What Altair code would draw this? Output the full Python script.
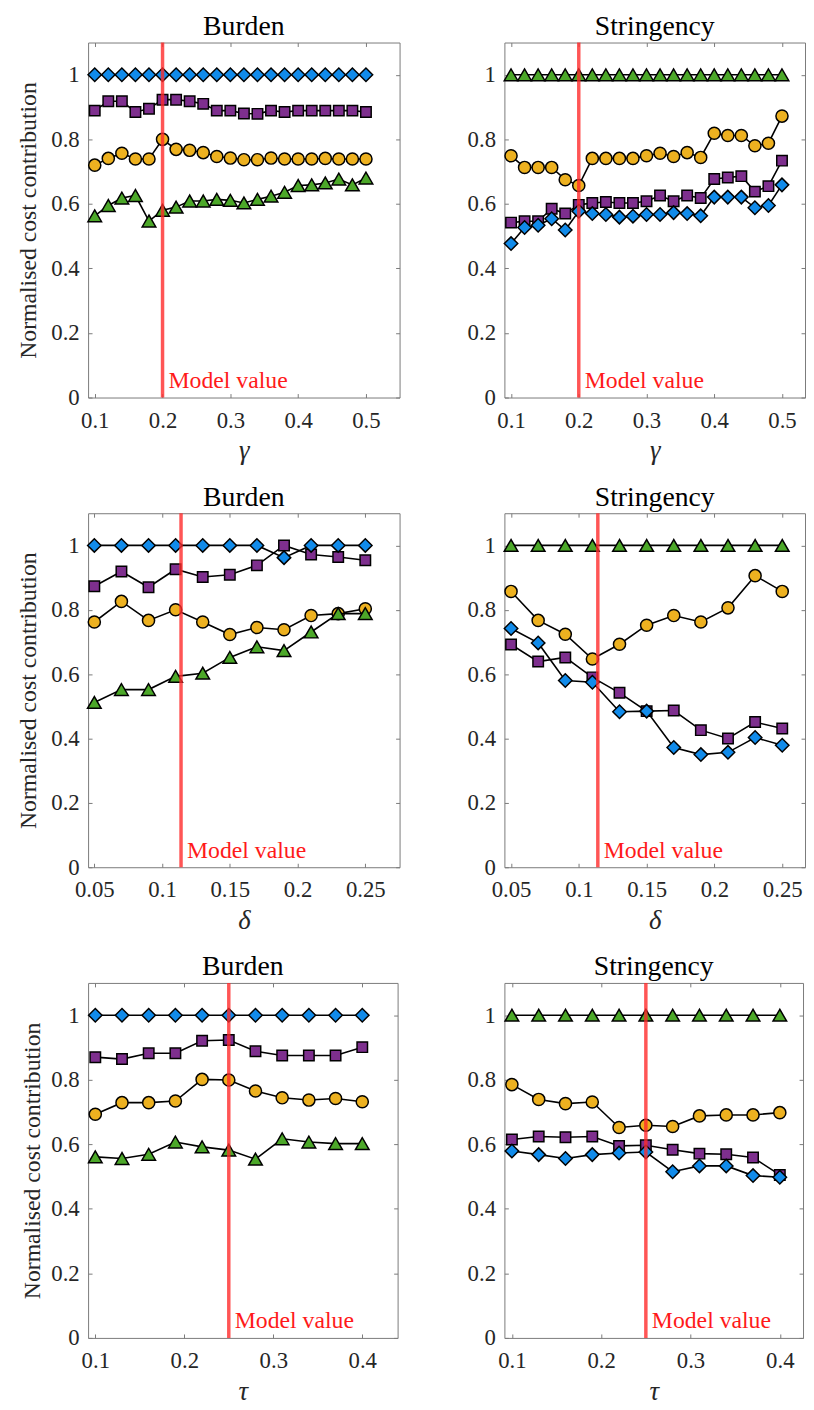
import altair as alt
import pandas as pd

# ---------------- data ----------------
gamma_x = [0.10, 0.12, 0.14, 0.16, 0.18, 0.20, 0.22, 0.24, 0.26, 0.28, 0.30,
           0.32, 0.34, 0.36, 0.38, 0.40, 0.42, 0.44, 0.46, 0.48, 0.50]
delta_x = [0.05, 0.07, 0.09, 0.11, 0.13, 0.15, 0.17, 0.19, 0.21, 0.23, 0.25]
tau_x = [0.10, 0.13, 0.16, 0.19, 0.22, 0.25, 0.28, 0.31, 0.34, 0.37, 0.40]

# Burden vs gamma
bg_blue = [1, 1, 1, 1, 1, 1, 1, 1, 1, 1, 1, 1, 1, 1, 1, 1, 1, 1, 1, 1, 1]
bg_purple = [0.889, 0.918, 0.918, 0.885, 0.895, 0.923, 0.923, 0.918, 0.910, 0.889, 0.889,
             0.880, 0.879, 0.889, 0.885, 0.889, 0.889, 0.889, 0.889, 0.889, 0.885]
bg_orange = [0.720, 0.741, 0.757, 0.739, 0.739, 0.800, 0.769, 0.766, 0.759, 0.747, 0.742,
             0.737, 0.737, 0.742, 0.739, 0.739, 0.739, 0.741, 0.739, 0.739, 0.739]
bg_green = [0.563, 0.595, 0.618, 0.626, 0.547, 0.580, 0.590, 0.609, 0.609, 0.614, 0.611,
            0.603, 0.614, 0.624, 0.636, 0.657, 0.659, 0.665, 0.677, 0.659, 0.680]

# Stringency vs gamma
sg_green = [1, 1, 1, 1, 1, 1, 1, 1, 1, 1, 1, 1, 1, 1, 1, 1, 1, 1, 1, 1, 1]
sg_orange = [0.749, 0.713, 0.713, 0.713, 0.675, 0.657, 0.741, 0.741, 0.741, 0.741, 0.749,
             0.757, 0.747, 0.759, 0.744, 0.819, 0.812, 0.812, 0.780, 0.788, 0.872]
sg_purple = [0.542, 0.546, 0.546, 0.585, 0.570, 0.597, 0.603, 0.606, 0.603, 0.603, 0.608,
             0.626, 0.608, 0.626, 0.618, 0.677, 0.682, 0.686, 0.638, 0.655, 0.734]
sg_blue = [0.477, 0.527, 0.534, 0.554, 0.519, 0.577, 0.570, 0.567, 0.559, 0.562, 0.567,
           0.567, 0.573, 0.570, 0.563, 0.621, 0.621, 0.621, 0.588, 0.595, 0.659]

# Burden vs delta
bd_blue = [1, 1, 1, 1, 1, 1, 1, 0.962, 1, 1, 1]
bd_purple = [0.873, 0.919, 0.870, 0.926, 0.902, 0.909, 0.938, 1.0, 0.972, 0.964, 0.954]
bd_orange = [0.762, 0.826, 0.767, 0.800, 0.762, 0.723, 0.745, 0.738, 0.782, 0.788, 0.803]
bd_green = [0.512, 0.552, 0.552, 0.593, 0.603, 0.652, 0.685, 0.673, 0.731, 0.788, 0.788]

# Stringency vs delta
sd_green = [1, 1, 1, 1, 1, 1, 1, 1, 1, 1, 1]
sd_orange = [0.857, 0.767, 0.724, 0.647, 0.693, 0.752, 0.782, 0.762, 0.806, 0.906, 0.857]
sd_blue = [0.742, 0.697, 0.580, 0.575, 0.483, 0.485, 0.372, 0.350, 0.357, 0.403, 0.379]
sd_purple = [0.692, 0.639, 0.652, 0.590, 0.542, 0.485, 0.487, 0.426, 0.400, 0.451, 0.431]

# Burden vs tau
bt_blue = [1, 1, 1, 1, 1, 1, 1, 1, 1, 1, 1]
bt_purple = [0.870, 0.864, 0.882, 0.882, 0.921, 0.923, 0.888, 0.875, 0.875, 0.875, 0.901]
bt_orange = [0.693, 0.729, 0.729, 0.734, 0.801, 0.799, 0.765, 0.744, 0.737, 0.742, 0.732]
bt_green = [0.561, 0.556, 0.569, 0.607, 0.592, 0.582, 0.554, 0.617, 0.607, 0.602, 0.602]

# Stringency vs tau
st_green = [1, 1, 1, 1, 1, 1, 1, 1, 1, 1, 1]
st_orange = [0.785, 0.739, 0.726, 0.731, 0.652, 0.659, 0.655, 0.688, 0.691, 0.691, 0.698]
st_purple = [0.615, 0.624, 0.622, 0.624, 0.595, 0.597, 0.583, 0.571, 0.569, 0.559, 0.505]
st_blue = [0.579, 0.568, 0.556, 0.568, 0.573, 0.576, 0.515, 0.533, 0.533, 0.503, 0.498]

model_values = [0.20, 0.114, 0.25]
x_titles = ["γ", "δ", "τ"]
panel_titles = ["Burden", "Stringency"]
y_title = "Normalised cost contribution"
model_label = "Model value"
y_ticks = [0, 0.2, 0.4, 0.6, 0.8, 1]
gamma_ticks = [0.1, 0.2, 0.3, 0.4, 0.5]
delta_ticks = [0.05, 0.1, 0.15, 0.2, 0.25]
tau_ticks = [0.1, 0.2, 0.3, 0.4]

# ---------------- styling ----------------
FONT = "Liberation Serif"
COLORS = {"orange": "#EDB120", "purple": "#7E2F8E", "green": "#4CA829", "blue": "#118BEA"}
SHAPES = {"orange": "circle", "purple": "square", "green": "triangle-up", "blue": "diamond"}
SIZES = {"orange": 150, "purple": 112, "green": 190, "blue": 185}
ORDER = ["orange", "purple", "green", "blue"]
GRAY = "#7a7a7a"
TXT = "#262626"


def panel(xs, series, xticks, xdom, width, height, model_x, title, xtitle, ytitle, ytpad):
    xsc = alt.Scale(domain=xdom, nice=False, zero=False)
    ysc = alt.Scale(domain=[0, 1.1], nice=False, zero=False)
    common = dict(labelFont=FONT, labelFontSize=23, labelColor=TXT, tickColor=GRAY,
                  tickWidth=1, grid=False, domain=False)
    main_x = alt.Axis(values=xticks, format="~g", tickSize=4, offset=-4, labelPadding=12,
                      title=xtitle, titleFont=FONT, titleFontStyle="italic", titleFontSize=27,
                      titleFontWeight="normal", titlePadding=6, titleColor=TXT, **common)
    if ytitle:
        main_y = alt.Axis(values=y_ticks, format="~g", tickSize=4, offset=-4, labelPadding=9,
                          title=ytitle, titleFont=FONT, titleFontSize=24,
                          titleFontWeight="normal", titlePadding=ytpad, titleColor=TXT,
                          **common)
    else:
        main_y = alt.Axis(values=y_ticks, format="~g", tickSize=4, offset=-4, labelPadding=9,
                          title=None, **common)
    top_x = alt.Axis(orient="top", values=xticks, tickSize=4, offset=-4, labels=False,
                     title=None, tickColor=GRAY, grid=False, domain=False)
    right_y = alt.Axis(orient="right", values=y_ticks, tickSize=4, offset=-4, labels=False,
                       title=None, tickColor=GRAY, grid=False, domain=False)

    layers = []
    first = True
    for key in ORDER:
        df = pd.DataFrame({"x": xs, "v": series[key]})
        if first:
            ax_l, ay_l = main_x, main_y
            ax_p, ay_p = top_x, right_y
        else:
            ax_l = ay_l = ax_p = ay_p = None
        line = alt.Chart(df).mark_line(color="black", strokeWidth=1.6).encode(
            x=alt.X("x:Q", scale=xsc, axis=ax_l),
            y=alt.Y("v:Q", scale=ysc, axis=ay_l),
        )
        pts = alt.Chart(df).mark_point(
            shape=SHAPES[key], filled=True, fill=COLORS[key], stroke="black",
            strokeWidth=1.5, size=SIZES[key], opacity=1,
        ).encode(
            x=alt.X("x:Q", scale=xsc, axis=ax_p),
            y=alt.Y("v:Q", scale=ysc, axis=ay_p),
        )
        layers += [line, pts]
        first = False

    mdf = pd.DataFrame({"x": [model_x], "y": [0.03], "t": [model_label]})
    rule = alt.Chart(mdf).mark_rule(color="#FF2A2A", strokeWidth=3.5, opacity=0.8).encode(
        x=alt.X("x:Q", scale=xsc, axis=None)
    )
    txt = alt.Chart(mdf).mark_text(align="left", baseline="alphabetic", dx=6, color="#FF1A1A",
                                   fontSize=24, font=FONT).encode(
        x=alt.X("x:Q", scale=xsc, axis=None),
        y=alt.Y("y:Q", scale=ysc, axis=None),
        text="t:N",
    )
    layers += [rule, txt]
    return (
        alt.layer(*layers)
        .resolve_scale(x="independent", y="independent")
        .resolve_axis(x="independent", y="independent")
        .properties(width=width, height=height,
                    title=alt.TitleParams(title, fontSize=28, font=FONT, fontWeight="normal",
                                          color="black", offset=0))
    )


p1 = panel(gamma_x, {"orange": bg_orange, "purple": bg_purple, "green": bg_green, "blue": bg_blue},
           gamma_ticks, [0.0902, 0.5496], 315, 359, model_values[0], panel_titles[0], x_titles[0], y_title, 10)
p2 = panel(gamma_x, {"orange": sg_orange, "purple": sg_purple, "green": sg_green, "blue": sg_blue},
           gamma_ticks, [0.0902, 0.534], 304, 359, model_values[0], panel_titles[1], x_titles[0], None, 10)
p3 = panel(delta_x, {"orange": bd_orange, "purple": bd_purple, "green": bd_green, "blue": bd_blue},
           delta_ticks, [0.0454, 0.2753], 315, 358, model_values[1], panel_titles[0], x_titles[1], y_title, 10)
p4 = panel(delta_x, {"orange": sd_orange, "purple": sd_purple, "green": sd_green, "blue": sd_blue},
           delta_ticks, [0.0451, 0.2668], 304, 358, model_values[1], panel_titles[1], x_titles[1], None, 10)
p5 = panel(tau_x, {"orange": bt_orange, "purple": bt_purple, "green": bt_green, "blue": bt_blue},
           tau_ticks, [0.0919, 0.4397], 313, 359, model_values[2], panel_titles[0], x_titles[2], y_title, 6)
p6 = panel(tau_x, {"orange": st_orange, "purple": st_purple, "green": st_green, "blue": st_blue},
           tau_ticks, [0.0916, 0.426], 302, 359, model_values[2], panel_titles[1], x_titles[2], None, 6)

row1 = alt.hconcat(p1, p2, spacing=66)
row2 = alt.hconcat(p3, p4, spacing=66)
row3 = alt.hconcat(p5, p6, spacing=68)

chart = (
    alt.vconcat(row1, row2, row3, spacing=18)
    .properties(padding={"left": 8, "top": -4, "right": 0, "bottom": 0})
    .configure(font=FONT)
    .configure_view(stroke=GRAY, strokeWidth=1)
    .configure_axis(labelFont=FONT, labelFontSize=23, labelColor=TXT, titleFont=FONT,
                    tickColor=GRAY, tickWidth=1, grid=False, domain=False)
    .configure_title(font=FONT)
)

chart.save("out.html", embed_options={"renderer": "svg", "actions": False})
